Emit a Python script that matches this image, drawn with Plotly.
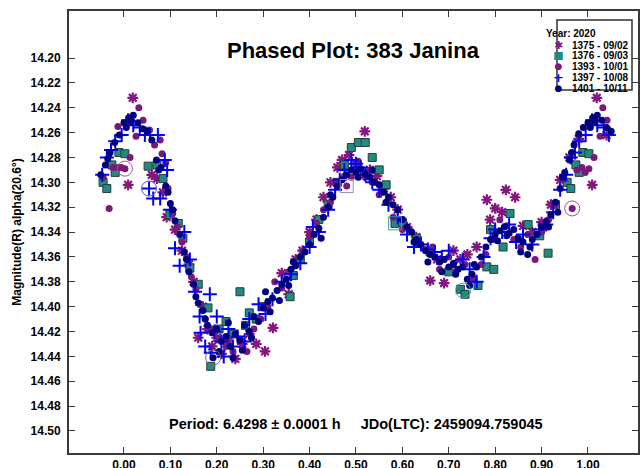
import plotly.graph_objects as go

# ---- Session data: rotational phase and reduced R magnitude ----
s1375_phase = [0.009, 0.019, 0.060, 0.071, 0.084, 0.092, 0.110, 0.125, 0.140, 0.150, 0.160, 0.170,
               0.180, 0.190, 0.200, 0.210, 0.225, 0.240, 0.255, 0.270, 0.285, 0.304, 0.321, 0.340,
               0.355, 0.370, 0.385, 0.400, 0.415, 0.430, 0.445, 0.460, 0.470, 0.485, 0.500, 0.519,
               0.530, 0.545, 0.560, 0.575, 0.590, 0.610, 0.630, 0.660, 0.675, 0.690, 0.710, 0.725,
               0.740, 0.760, 0.782, 0.789, 0.800, 0.815, 0.823, 0.843, 0.860, 0.880, 0.900, 0.920,
               0.940, 0.960, 0.980, 1.009, 1.019, 1.040]
s1375_mag = [14.302, 14.232, 14.294, 14.297, 14.308, 14.328, 14.338, 14.355, 14.366, 14.380, 14.425,
             14.400, 14.418, 14.432, 14.425, 14.438, 14.428, 14.442, 14.430, 14.422, 14.430, 14.436,
             14.417, 14.373, 14.390, 14.362, 14.355, 14.340, 14.330, 14.312, 14.300, 14.288, 14.282,
             14.278, 14.285, 14.259, 14.290, 14.295, 14.305, 14.312, 14.322, 14.336, 14.344, 14.379,
             14.362, 14.381, 14.355, 14.362, 14.358, 14.352, 14.314, 14.330, 14.321, 14.324, 14.306,
             14.312, 14.335, 14.340, 14.332, 14.318, 14.298, 14.280, 14.265, 14.302, 14.232, 14.262]

s1376_phase = [-0.045, -0.037, -0.026, -0.019, -0.011, 0.002, 0.052, 0.071, 0.084, 0.099, 0.117,
               0.127, 0.142, 0.160, 0.181, 0.187, 0.205, 0.220, 0.235, 0.250, 0.262, 0.270, 0.285,
               0.300, 0.358, 0.365, 0.380, 0.400, 0.420, 0.440, 0.460, 0.475, 0.490, 0.505, 0.520,
               0.535, 0.550, 0.565, 0.584, 0.600, 0.630, 0.660, 0.700, 0.725, 0.735, 0.763, 0.782,
               0.790, 0.797, 0.817, 0.832, 0.871, 0.896, 0.914, 0.930, 0.955, 0.963, 0.974, 0.981,
               0.989, 1.002]
s1376_mag = [14.300, 14.305, 14.286, 14.292, 14.276, 14.277, 14.287, 14.286, 14.297, 14.326, 14.333,
             14.345, 14.369, 14.382, 14.401, 14.448, 14.418, 14.412, 14.422, 14.388, 14.415, 14.405,
             14.410, 14.400, 14.392, 14.375, 14.362, 14.348, 14.330, 14.318, 14.300, 14.286, 14.272,
             14.268, 14.268, 14.280, 14.290, 14.302, 14.333, 14.332, 14.345, 14.356, 14.372, 14.386,
             14.390, 14.383, 14.368, 14.338, 14.370, 14.352, 14.325, 14.334, 14.343, 14.357, 14.318,
             14.300, 14.305, 14.286, 14.292, 14.276, 14.277]

s1393_phase = [-0.045, -0.032, -0.024, -0.013, -0.013, -0.006, 0.002, 0.013, 0.026, 0.032, 0.041,
               0.055, 0.066, 0.078, 0.082, 0.090, 0.095, 0.105, 0.115, 0.125, 0.135, 0.145, 0.155,
               0.165, 0.175, 0.190, 0.205, 0.220, 0.235, 0.250, 0.265, 0.280, 0.295, 0.310, 0.325,
               0.340, 0.355, 0.370, 0.385, 0.400, 0.415, 0.430, 0.445, 0.460, 0.475, 0.480, 0.490,
               0.505, 0.520, 0.535, 0.550, 0.565, 0.580, 0.600, 0.615, 0.630, 0.650, 0.665, 0.680,
               0.700, 0.715, 0.735, 0.755, 0.770, 0.780, 0.795, 0.810, 0.825, 0.840, 0.855, 0.870,
               0.886, 0.900, 0.915, 0.930, 0.945, 0.966, 0.976, 0.987, 0.994, 1.002, 1.013, 1.026,
               1.032, 1.041]
s1393_mag = [14.296, 14.321, 14.288, 14.255, 14.288, 14.288, 14.289, 14.280, 14.263, 14.240, 14.250,
             14.258, 14.270, 14.266, 14.277, 14.284, 14.305, 14.325, 14.336, 14.348, 14.360, 14.376,
             14.386, 14.398, 14.410, 14.418, 14.426, 14.432, 14.436, 14.426, 14.436, 14.418, 14.410,
             14.400, 14.380, 14.385, 14.372, 14.366, 14.356, 14.344, 14.333, 14.322, 14.316, 14.300,
             14.295, 14.303, 14.296, 14.283, 14.296, 14.300, 14.310, 14.316, 14.328, 14.338, 14.338,
             14.350, 14.354, 14.352, 14.370, 14.360, 14.372, 14.366, 14.378, 14.366, 14.358, 14.346,
             14.330, 14.335, 14.346, 14.352, 14.342, 14.362, 14.340, 14.330, 14.318, 14.298, 14.321,
             14.290, 14.288, 14.292, 14.289, 14.280, 14.263, 14.240, 14.250]

s1397_phase = [-0.047, -0.037, -0.028, -0.019, -0.005, 0.009, 0.020, 0.034, 0.045, 0.054, 0.056,
               0.063, 0.073, 0.078, 0.088, 0.093, 0.099, 0.110, 0.120, 0.130, 0.142, 0.153, 0.163,
               0.165, 0.175, 0.185, 0.187, 0.195, 0.200, 0.210, 0.215, 0.225, 0.235, 0.245, 0.260,
               0.270, 0.290, 0.305, 0.320, 0.340, 0.360, 0.380, 0.400, 0.407, 0.420, 0.440, 0.455,
               0.465, 0.475, 0.490, 0.500, 0.510, 0.520, 0.535, 0.550, 0.570, 0.590, 0.610, 0.625,
               0.640, 0.655, 0.670, 0.685, 0.700, 0.715, 0.730, 0.745, 0.760, 0.775, 0.790, 0.800,
               0.815, 0.830, 0.845, 0.860, 0.880, 0.895, 0.910, 0.925, 0.940, 0.953, 0.963, 0.972,
               0.981, 0.995, 1.009, 1.020, 1.034, 1.045]
s1397_mag = [14.294, 14.280, 14.274, 14.267, 14.262, 14.250, 14.254, 14.256, 14.262, 14.305, 14.262,
             14.313, 14.262, 14.313, 14.282, 14.290, 14.322, 14.353, 14.367, 14.340, 14.362, 14.388,
             14.408, 14.421, 14.432, 14.390, 14.437, 14.420, 14.408, 14.428, 14.440, 14.418, 14.432,
             14.424, 14.428, 14.410, 14.398, 14.406, 14.394, 14.380, 14.374, 14.365, 14.352, 14.336,
             14.340, 14.322, 14.306, 14.298, 14.290, 14.282, 14.285, 14.288, 14.294, 14.300, 14.306,
             14.318, 14.328, 14.342, 14.352, 14.350, 14.354, 14.356, 14.360, 14.355, 14.368, 14.362,
             14.370, 14.380, 14.360, 14.345, 14.338, 14.340, 14.334, 14.348, 14.342, 14.350, 14.338,
             14.334, 14.324, 14.306, 14.294, 14.280, 14.276, 14.267, 14.262, 14.250, 14.254, 14.256,
             14.262]

s1401_phase = [-0.050, -0.040, -0.035, -0.030, -0.020, -0.010, 0.000, 0.005, 0.010, 0.015, 0.020,
               0.030, 0.040, 0.050, 0.060, 0.070, 0.075, 0.080, 0.090, 0.095, 0.100, 0.105, 0.110,
               0.120, 0.130, 0.135, 0.140, 0.150, 0.155, 0.160, 0.170, 0.175, 0.180, 0.190, 0.192,
               0.200, 0.205, 0.210, 0.220, 0.225, 0.230, 0.235, 0.240, 0.250, 0.255, 0.260, 0.270,
               0.275, 0.280, 0.290, 0.300, 0.305, 0.310, 0.315, 0.320, 0.330, 0.335, 0.340, 0.350,
               0.355, 0.360, 0.365, 0.370, 0.380, 0.390, 0.400, 0.410, 0.420, 0.425, 0.430, 0.440,
               0.445, 0.450, 0.460, 0.470, 0.480, 0.490, 0.500, 0.505, 0.510, 0.520, 0.530, 0.535,
               0.540, 0.550, 0.560, 0.565, 0.570, 0.580, 0.590, 0.600, 0.610, 0.620, 0.625, 0.630,
               0.640, 0.650, 0.655, 0.660, 0.670, 0.680, 0.685, 0.690, 0.700, 0.710, 0.715, 0.720,
               0.730, 0.740, 0.745, 0.750, 0.755, 0.760, 0.770, 0.780, 0.790, 0.800, 0.805, 0.810,
               0.820, 0.825, 0.830, 0.840, 0.850, 0.855, 0.860, 0.870, 0.875, 0.880, 0.890, 0.900,
               0.910, 0.915, 0.920, 0.930, 0.935, 0.940, 0.945, 0.950, 0.960, 0.965, 0.970, 0.980,
               0.990, 1.000, 1.005, 1.010, 1.015, 1.020, 1.030, 1.040, 1.050]
s1401_mag = [14.294, 14.286, 14.281, 14.276, 14.268, 14.262, 14.252, 14.256, 14.248, 14.251, 14.246,
             14.252, 14.257, 14.259, 14.266, 14.282, 14.290, 14.288, 14.303, 14.308, 14.317, 14.322,
             14.331, 14.342, 14.356, 14.362, 14.372, 14.382, 14.392, 14.397, 14.403, 14.410, 14.415,
             14.421, 14.441, 14.418, 14.436, 14.428, 14.424, 14.413, 14.432, 14.441, 14.422, 14.427,
             14.435, 14.415, 14.420, 14.425, 14.408, 14.412, 14.401, 14.388, 14.396, 14.404, 14.393,
             14.387, 14.395, 14.382, 14.378, 14.383, 14.370, 14.364, 14.367, 14.360, 14.356, 14.350,
             14.342, 14.337, 14.345, 14.328, 14.320, 14.310, 14.312, 14.303, 14.298, 14.294, 14.290,
             14.292, 14.296, 14.289, 14.293, 14.296, 14.290, 14.300, 14.302, 14.308, 14.316, 14.312,
             14.318, 14.322, 14.330, 14.336, 14.340, 14.348, 14.346, 14.350, 14.355, 14.364, 14.358,
             14.360, 14.364, 14.372, 14.362, 14.368, 14.365, 14.374, 14.370, 14.368, 14.378, 14.383,
             14.374, 14.366, 14.368, 14.360, 14.352, 14.346, 14.342, 14.347, 14.339, 14.336, 14.343,
             14.341, 14.338, 14.345, 14.356, 14.348, 14.358, 14.352, 14.346, 14.342, 14.336, 14.332,
             14.336, 14.326, 14.316, 14.324, 14.305, 14.296, 14.292, 14.282, 14.276, 14.270, 14.261,
             14.256, 14.252, 14.256, 14.248, 14.251, 14.246, 14.250, 14.256, 14.259]

# Flagged observations, drawn with an open ring / box around them
ring_phase = [0.002, 0.054, 0.192, 0.731, 0.966]
ring_mag = [14.289, 14.305, 14.441, 14.387, 14.321]
ring_session = ["1393 - 10/01", "1397 - 10/08", "1401 - 10/11", "1376 - 09/03", "1393 - 10/01"]
box_phase = [0.480, 0.584]
box_mag = [14.303, 14.333]
box_session = ["1393 - 10/01", "1376 - 09/03"]

session_names = ["1375 - 09/02", "1376 - 09/03", "1393 - 10/01", "1397 - 10/08", "1401 - 10/11"]
x_ticks = [0.0, 0.1, 0.2, 0.3, 0.4, 0.5, 0.6, 0.7, 0.8, 0.9, 1.0]
y_ticks = [14.20, 14.22, 14.24, 14.26, 14.28, 14.30, 14.32, 14.34, 14.36, 14.38, 14.40,
           14.42, 14.44, 14.46, 14.48, 14.50]

FONT = "Arial, 'Liberation Sans', sans-serif"
PURPLE = "#85167F"
PLUM = "#7A1A78"
TEAL = "#218A83"
BLUE = "#0000FF"
NAVY = "#000080"
ring_colors = {session_names[0]: PURPLE, session_names[1]: "#3FA6A0", session_names[2]: "#A050A0",
               session_names[3]: "#5050D0", session_names[4]: "#707070"}
box_colors = {session_names[1]: "#3FA6A0", session_names[2]: "#9A8CC0"}

fig = go.Figure()

fig.add_trace(go.Scatter(x=s1375_phase, y=s1375_mag, mode="markers", name=session_names[0],
                         marker=dict(symbol="asterisk-open", size=9, color=PURPLE,
                                     line=dict(color=PURPLE, width=2.2))))
fig.add_trace(go.Scatter(x=s1376_phase, y=s1376_mag, mode="markers", name=session_names[1],
                         marker=dict(symbol="square", size=8, color=TEAL,
                                     line=dict(color="#2B3B3A", width=1))))
fig.add_trace(go.Scatter(x=s1393_phase, y=s1393_mag, mode="markers", name=session_names[2],
                         marker=dict(symbol="circle", size=7, color=PLUM,
                                     line=dict(color=PLUM, width=0))))
fig.add_trace(go.Scatter(x=s1397_phase, y=s1397_mag, mode="markers", name=session_names[3],
                         marker=dict(symbol="cross-thin-open", size=10, color=BLUE,
                                     line=dict(color=BLUE, width=2))))
fig.add_trace(go.Scatter(x=s1401_phase, y=s1401_mag, mode="markers", name=session_names[4],
                         marker=dict(symbol="circle", size=7, color=NAVY,
                                     line=dict(color=NAVY, width=0))))

# Open symbols take their stroke colour from marker.color
ring_cols = [ring_colors[s] for s in ring_session]
box_cols = [box_colors[s] for s in box_session]
fig.add_trace(go.Scatter(x=ring_phase, y=ring_mag, mode="markers", showlegend=False, hoverinfo="skip",
                         marker=dict(symbol="circle-open", size=15, color=ring_cols,
                                     line=dict(color=ring_cols, width=1))))
fig.add_trace(go.Scatter(x=box_phase, y=box_mag, mode="markers", showlegend=False, hoverinfo="skip",
                         marker=dict(symbol="square-open", size=13, color=box_cols,
                                     line=dict(color=box_cols, width=1))))

axis_common = dict(showgrid=False, zeroline=False, showline=True, linecolor="#3A3A3A", linewidth=2,
                   mirror="allticks", ticks="inside", ticklen=6, tickwidth=1, tickcolor="#3A3A3A",
                   tickfont=dict(family=FONT, size=12, color="black", weight="bold"))

fig.update_xaxes(range=[-0.1185, 1.1078], tickvals=x_ticks, tickformat=".2f", **axis_common)
fig.update_yaxes(range=[14.5177, 14.1622], tickvals=y_ticks, tickformat=".2f", ticklabelstandoff=4,
                 title=dict(text="Magnitude(R) alpha(20.6°)", standoff=6,
                            font=dict(family=FONT, size=12, color="black", weight="bold")),
                 **axis_common)

# Page-pixel helpers for the framed key in the upper right corner
def px_x(p):
    return (p - 69) / 569

def px_y(p):
    return 1 - (p - 11) / 442

fig.add_shape(type="rect", xref="paper", yref="paper", x0=px_x(557), x1=px_x(632), y0=px_y(90),
              y1=px_y(20), line=dict(color="#303030", width=1.5), fillcolor="white", layer="above")
fig.add_annotation(xref="paper", yref="paper", x=px_x(597), y=px_y(27.5), text="<b>Year: 2020</b>",
                   showarrow=False, borderpad=0, height=10,
                   font=dict(family=FONT, size=10, color="black"))
key_glyphs = ["✱", "■", "●", "<b>+</b>", "●"]
key_colors = [PURPLE, TEAL, PLUM, BLUE, NAVY]
key_sizes = [11, 11, 9, 13, 9]
for i, name in enumerate(session_names):
    row_y = px_y(38.5 + 10.8 * i)
    fig.add_annotation(xref="paper", yref="paper", x=px_x(564), y=row_y, showarrow=False,
                       borderpad=0, height=10, width=9, text=key_glyphs[i],
                       font=dict(family="DejaVu Sans", size=key_sizes[i], color=key_colors[i]))
    fig.add_annotation(xref="paper", yref="paper", x=px_x(571), y=row_y, xanchor="left",
                       showarrow=False, borderpad=0, height=10, text="<b>%s</b>" % name,
                       font=dict(family=FONT, size=10, color="black"))

fig.add_annotation(xref="paper", yref="paper", x=px_x(353.5), y=px_y(36), showarrow=False,
                   text="<b>Phased Plot: 383 Janina</b>",
                   font=dict(family=FONT, size=22, color="black"))
fig.add_annotation(xref="paper", yref="paper", x=px_x(356), y=px_y(434), showarrow=False,
                   text="<b>Period: 6.4298 ± 0.0001 h&nbsp;&nbsp;&nbsp;&nbsp;&nbsp;JDo(LTC): 2459094.759045</b>",
                   font=dict(family=FONT, size=14.5, color="black"))

fig.update_layout(width=644, height=468, margin=dict(l=69, r=6, t=11, b=15, autoexpand=False),
                  paper_bgcolor="white", plot_bgcolor="white", showlegend=False,
                  font=dict(family=FONT, color="black"))

fig.write_html("out.html")
